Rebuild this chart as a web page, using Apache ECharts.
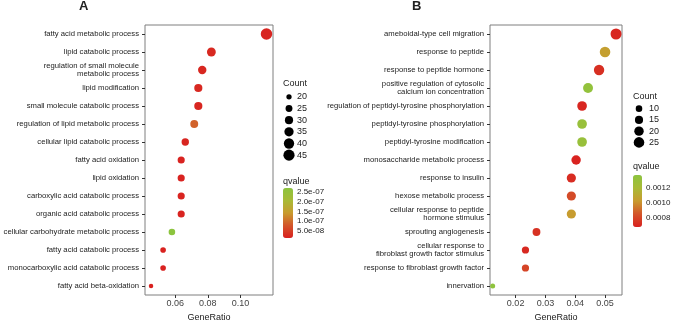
<!DOCTYPE html>
<html>
<head>
<meta charset="utf-8">
<script src="https://cdn.jsdelivr.net/npm/echarts@6/dist/echarts.min.js"></script>
<style>
  html, body { margin: 0; padding: 0; background: #fff; }
  #chart { width: 676px; height: 321px; }
</style>
</head>
<body>
<div id="chart"></div>
<script>
// --- data ---
const catsA = [
  'fatty acid metabolic process',
  'lipid catabolic process',
  'regulation of small molecule\nmetabolic process',
  'lipid modification',
  'small molecule catabolic process',
  'regulation of lipid metabolic process',
  'cellular lipid catabolic process',
  'fatty acid oxidation',
  'lipid oxidation',
  'carboxylic acid catabolic process',
  'organic acid catabolic process',
  'cellular carbohydrate metabolic process',
  'fatty acid catabolic process',
  'monocarboxylic acid catabolic process',
  'fatty acid beta-oxidation'
];
const ratioA = [0.116, 0.0822, 0.0766, 0.0742, 0.0742, 0.0717, 0.0662, 0.0637, 0.0637, 0.0637, 0.0637, 0.058, 0.0526, 0.0526, 0.0452];
const countA = [47, 33, 31, 30, 30, 29, 27, 26, 26, 26, 26, 24, 21, 21, 18];
const qA = [2.0e-8, 2.5e-8, 2.2e-8, 2.4e-8, 2.1e-8, 9.0e-8, 2.0e-8, 1.8e-8, 1.8e-8, 1.9e-8, 1.9e-8, 2.7e-7, 1.6e-8, 1.7e-8, 1.5e-8];

const catsB = [
  'ameboidal-type cell migration',
  'response to peptide',
  'response to peptide hormone',
  'positive regulation of cytosolic\ncalcium ion concentration',
  'regulation of peptidyl-tyrosine phosphorylation',
  'peptidyl-tyrosine phosphorylation',
  'peptidyl-tyrosine modification',
  'monosaccharide metabolic process',
  'response to insulin',
  'hexose metabolic process',
  'cellular response to peptide\nhormone stimulus',
  'sprouting angiogenesis',
  'cellular response to\nfibroblast growth factor stimulus',
  'response to fibroblast growth factor',
  'innervation'
];
const ratioB = [0.0537, 0.0500, 0.0480, 0.0443, 0.0423, 0.0423, 0.0423, 0.0403, 0.0387, 0.0387, 0.0387, 0.0270, 0.0233, 0.0233, 0.0123];
const countB = [27, 25, 24, 22, 21, 21, 21, 20, 19, 19, 19, 14, 12, 12, 6];
const qB = [0.00070, 0.00105, 0.00073, 0.00133, 0.00070, 0.00130, 0.00130, 0.00069, 0.00072, 0.00082, 0.00103, 0.00074, 0.00071, 0.00080, 0.00135];

// tick labels
const xTicksA = [0.06, 0.08, 0.10];
const xTicksB = [0.02, 0.03, 0.04, 0.05];
const sizeBreaksA = [20, 25, 30, 35, 40, 45];
const sizeBreaksB = [10, 15, 20, 25];
const qTicksA = [5e-8, 1e-7, 1.5e-7, 2e-7, 2.5e-7];
const qTicksB = [0.0008, 0.0010, 0.0012];

// colour gradient low (red) -> high (green)
const qColors = ['#D9201F', '#D3552A', '#C89B2F', '#A9BA36', '#8CC43E'];
const FONT = '"Liberation Sans", Arial, sans-serif';

// ggplot-like area scaling for dot size
function dotSize(c, cmin, cmax, dmin, dmax) {
  const t = (c - cmin) / (cmax - cmin);
  return Math.sqrt(dmin * dmin + (dmax * dmax - dmin * dmin) * t);
}
const sizeA = c => dotSize(c, 18, 47, 4.5, 11.5);
const sizeB = c => dotSize(c, 6, 27, 5, 11);

function fmtExp(v) {
  const e = Math.floor(Math.log10(v) + 1e-9);
  const m = v / Math.pow(10, e);
  return m.toFixed(1) + 'e-0' + (-e);
}

const chart = echarts.init(document.getElementById('chart'));

const mainY = (gridIndex, cats) => ({
  gridIndex, type: 'category', data: cats, inverse: true,
  axisLine: { show: false },
  axisTick: { show: true, alignWithLabel: true, length: 3, lineStyle: { color: '#333' } },
  axisLabel: { interval: 0, fontSize: 7.7, lineHeight: 8, color: '#222', margin: 6, fontFamily: FONT },
  splitLine: { show: false }
});
const mainX = (gridIndex, min, max, ticks) => ({
  gridIndex, type: 'value', min, max,
  name: 'GeneRatio', nameLocation: 'middle', nameGap: 15,
  nameTextStyle: { fontSize: 9, color: '#222', fontFamily: FONT },
  axisLine: { show: false },
  axisTick: { show: true, length: 3, lineStyle: { color: '#333' }, customValues: ticks },
  axisLabel: { fontSize: 9, color: '#444', margin: 4, fontFamily: FONT, customValues: ticks, formatter: v => v.toFixed(2) },
  splitLine: { show: false }
});
const legendX = gridIndex => ({ gridIndex, type: 'value', min: -1, max: 1, show: false });
const legendY = (gridIndex, breaks, margin) => ({
  gridIndex, type: 'category', data: breaks.map(String), inverse: true, position: 'right',
  axisLine: { show: false }, axisTick: { show: false },
  axisLabel: { interval: 0, fontSize: 9, color: '#222', margin, fontFamily: FONT }
});
const barY = (gridIndex, min, max, ticks, fmt) => ({
  gridIndex, type: 'value', min, max, position: 'right', z: 10,
  axisLine: { show: false }, splitLine: { show: false },
  axisTick: { show: true, inside: true, length: 2, lineStyle: { color: '#fff' }, customValues: ticks },
  axisLabel: { fontSize: 8, color: '#222', margin: 4, fontFamily: FONT, customValues: ticks, formatter: fmt }
});
const gridBase = { outerBoundsMode: 'none', containLabel: false };

const option = {
  animation: false,
  textStyle: { fontFamily: FONT },
  title: [
    { text: 'A', left: 79, top: 0, padding: 0, textStyle: { fontSize: 13, fontWeight: 'bold', color: '#222', fontFamily: FONT } },
    { text: 'B', left: 412, top: 0, padding: 0, textStyle: { fontSize: 13, fontWeight: 'bold', color: '#222', fontFamily: FONT } },
    { text: 'Count', left: 283, top: 79, padding: 0, textStyle: { fontSize: 9, fontWeight: 'normal', color: '#222', fontFamily: FONT } },
    { text: 'qvalue', left: 283, top: 177, padding: 0, textStyle: { fontSize: 9, fontWeight: 'normal', color: '#222', fontFamily: FONT } },
    { text: 'Count', left: 633, top: 92, padding: 0, textStyle: { fontSize: 9, fontWeight: 'normal', color: '#222', fontFamily: FONT } },
    { text: 'qvalue', left: 633, top: 162, padding: 0, textStyle: { fontSize: 9, fontWeight: 'normal', color: '#222', fontFamily: FONT } }
  ],
  grid: [
    { ...gridBase, left: 145, top: 25, width: 128, height: 270, show: true, borderColor: '#7f7f7f', borderWidth: 1 },
    { ...gridBase, left: 490, top: 25, width: 132, height: 270, show: true, borderColor: '#7f7f7f', borderWidth: 1 },
    { ...gridBase, left: 283, top: 91, width: 12, height: 70 },
    { ...gridBase, left: 633, top: 103, width: 12, height: 45 },
    { ...gridBase, left: 283, top: 188, width: 10, height: 50 },
    { ...gridBase, left: 633, top: 175, width: 9, height: 52 }
  ],
  xAxis: [
    mainX(0, 0.0415, 0.120, xTicksA),
    mainX(1, 0.0114, 0.0557, xTicksB),
    legendX(2),
    legendX(3),
    { gridIndex: 4, type: 'value', min: 0, max: 1, show: false },
    { gridIndex: 5, type: 'value', min: 0, max: 1, show: false }
  ],
  yAxis: [
    mainY(0, catsA),
    mainY(1, catsB),
    legendY(2, sizeBreaksA, 2),
    legendY(3, sizeBreaksB, 4),
    barY(4, 1.4e-8, 2.7e-7, qTicksA, fmtExp),
    barY(5, 0.00068, 0.00137, qTicksB, v => v.toFixed(4))
  ],
  visualMap: [
    {
      type: 'continuous', seriesIndex: 0, dimension: 3, min: 1.4e-8, max: 2.7e-7,
      left: 283, top: 188, itemWidth: 10, itemHeight: 50, padding: 0,
      calculable: false, hoverLink: false, inRange: { color: qColors }
    },
    {
      type: 'continuous', seriesIndex: 1, dimension: 3, min: 0.00068, max: 0.00137,
      left: 633, top: 175, itemWidth: 9, itemHeight: 52, padding: 0,
      calculable: false, hoverLink: false, inRange: { color: qColors }
    }
  ],
  series: [
    {
      type: 'scatter', xAxisIndex: 0, yAxisIndex: 0, itemStyle: { opacity: 1 },
      data: catsA.map((c, i) => [ratioA[i], c, countA[i], qA[i]]),
      symbolSize: v => sizeA(v[2])
    },
    {
      type: 'scatter', xAxisIndex: 1, yAxisIndex: 1, itemStyle: { opacity: 1 },
      data: catsB.map((c, i) => [ratioB[i], c, countB[i], qB[i]]),
      symbolSize: v => sizeB(v[2])
    },
    {
      type: 'scatter', xAxisIndex: 2, yAxisIndex: 2, itemStyle: { color: '#000', opacity: 1 },
      data: sizeBreaksA.map(b => [0, String(b), b]),
      symbolSize: v => sizeA(v[2])
    },
    {
      type: 'scatter', xAxisIndex: 3, yAxisIndex: 3, itemStyle: { color: '#000', opacity: 1 },
      data: sizeBreaksB.map(b => [0, String(b), b]),
      symbolSize: v => sizeB(v[2])
    }
  ]
};

chart.setOption(option);
</script>
</body>
</html>
